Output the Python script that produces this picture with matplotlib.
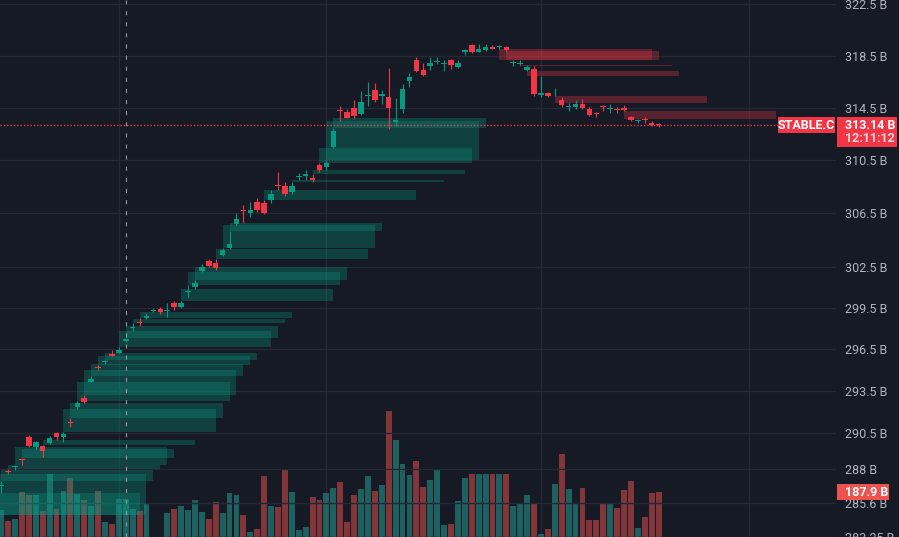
import matplotlib.pyplot as plt
import matplotlib.transforms as mtransforms
from matplotlib.patches import Rectangle
from matplotlib.ticker import NullLocator, NullFormatter
import numpy as np

plt.rcParams['font.family'] = ['Roboto', 'DejaVu Sans']
plt.rcParams['lines.scale_dashes'] = False

# daily candles, values in B; the first two bars sit just off the left edge
first_bar = -2
opens = [284.30, 284.50,
         286.82, 287.80, 288.09, 288.67, 290.21, 289.50, 289.57, 289.78, 290.49, 290.23,
         291.30, 292.39, 293.03, 294.17, 295.24, 295.59, 296.14, 296.23, 297.09, 298.08,
         298.49, 298.75, 299.31, 299.40, 299.31, 299.84, 299.55, 300.69, 301.07, 302.24,
         302.97, 302.83, 303.41, 303.92, 305.69, 306.75, 306.50, 307.31, 307.24, 307.46,
         308.60, 308.51, 308.13, 309.20, 309.26, 309.18, 310.15, 310.00, 311.50, 314.25,
         314.15, 314.46, 314.00, 315.42, 315.83, 315.37, 315.29, 313.42, 314.38, 316.52,
         318.20, 317.36, 317.67, 318.03, 317.87, 318.20, 317.59, 318.82, 319.36, 318.82,
         318.97, 319.20, 319.18, 319.20, 317.95, 317.82, 317.36, 317.44, 315.45, 315.60,
         315.58, 315.06, 314.51, 314.53, 314.76, 314.38, 314.03, 314.56, 314.36, 314.33,
         314.46, 313.78, 313.45, 313.57, 313.32, 313.19]
highs = [284.77, 284.77,
         287.13, 287.97, 288.25, 288.76, 290.35, 289.97, 289.68, 290.28, 290.61, 290.61,
         291.60, 292.77, 293.22, 294.57, 295.40, 295.76, 296.43, 296.66, 297.31, 298.39,
         298.75, 299.12, 299.48, 299.55, 299.84, 300.05, 300.05, 301.22, 301.58, 302.75,
         303.12, 303.12, 303.92, 305.17, 306.50, 307.09, 307.31, 307.61, 307.46, 308.28,
         309.63, 308.81, 308.81, 309.55, 309.78, 309.48, 310.30, 310.53, 312.94, 314.61,
         314.38, 315.06, 315.75, 316.44, 316.37, 315.83, 317.51, 315.22, 316.29, 317.13,
         318.36, 317.90, 318.36, 318.43, 318.20, 318.28, 318.13, 319.05, 319.44, 319.44,
         319.44, 319.36, 319.36, 319.28, 318.20, 318.13, 317.74, 317.67, 316.90, 315.68,
         315.98, 315.29, 314.84, 315.06, 315.14, 314.53, 314.15, 314.69, 314.76, 314.53,
         314.69, 313.85, 313.62, 313.78, 313.47, 313.32]
lows = [284.10, 284.20,
        286.30, 287.62, 287.90, 288.25, 289.52, 289.38, 288.83, 289.71, 289.99, 289.90,
        290.91, 292.25, 292.68, 294.15, 295.00, 295.47, 296.00, 296.21, 297.06, 297.82,
        298.18, 298.68, 299.19, 299.04, 298.83, 299.33, 299.53, 300.34, 300.93, 302.17,
        302.53, 302.31, 303.34, 303.85, 305.62, 305.77, 306.21, 306.58, 306.43, 307.24,
        308.21, 307.76, 307.98, 309.03, 308.96, 308.81, 309.63, 309.78, 311.43, 313.47,
        313.68, 313.62, 313.93, 314.61, 314.91, 314.76, 312.87, 313.09, 314.08, 316.06,
        317.21, 316.96, 317.36, 317.82, 317.28, 317.44, 317.51, 318.59, 318.74, 318.80,
        318.89, 319.03, 319.05, 318.89, 317.67, 317.80, 317.28, 315.37, 315.29, 315.29,
        315.37, 314.53, 314.23, 314.38, 314.38, 313.85, 313.78, 314.23, 314.08, 314.08,
        314.23, 313.47, 313.32, 313.32, 313.09, 313.02]
closes = [284.60, 284.70,
          286.89, 287.76, 288.12, 288.62, 289.57, 289.85, 289.22, 290.14, 290.21, 290.42,
          291.26, 292.63, 292.75, 294.38, 295.19, 295.63, 296.02, 296.45, 297.24, 298.13,
          298.44, 298.90, 299.35, 299.19, 299.38, 299.55, 299.84, 300.73, 301.37, 302.53,
          302.61, 302.46, 303.77, 304.22, 306.06, 306.70, 306.72, 306.72, 306.50, 307.91,
          308.56, 307.98, 308.58, 309.26, 309.48, 308.96, 309.78, 310.30, 312.71, 314.21,
          313.70, 313.85, 314.91, 315.47, 315.06, 315.52, 314.46, 313.55, 315.91, 316.83,
          317.28, 316.98, 317.97, 318.07, 317.92, 317.74, 317.97, 318.97, 318.82, 319.05,
          319.20, 319.05, 319.23, 318.97, 318.00, 317.97, 317.59, 315.52, 315.60, 315.37,
          315.62, 314.69, 314.56, 314.76, 314.46, 313.93, 313.98, 314.51, 314.40, 314.28,
          314.31, 313.55, 313.50, 313.53, 313.17, 313.14]
volumes = [120, 120,
           124, 85, 92, 188, 177, 177, 121, 252, 128, 191,
           238, 181, 160, 138, 191, 82, 74, 163, 163, 128,
           121, 145, 10, 10, 113, 128, 138, 124, 160, 117,
           92, 152, 113, 184, 177, 106, 46, 57, 245, 138,
           135, 266, 188, 53, 64, 170, 160, 184, 202, 223,
           82, 177, 199, 245, 191, 213, 475, 372, 287, 248,
           298, 206, 230, 266, 71, 74, 156, 238, 252, 252,
           252, 252, 252, 252, 138, 149, 177, 149, 39, 57,
           216, 323, 199, 149, 202, 89, 89, 145, 149, 131,
           195, 227, 60, 99, 184, 187.9]

# fair value gaps (bar where the gap starts), drawn 22 bars to the right
bull_fvg = [-2, -1, 0, 1, 2, 3, 6, 9, 10, 11, 12, 13, 14, 15, 17, 18, 19, 20,
            26, 27, 28, 31, 32, 33, 38, 42, 45, 46, 47, 48]
bear_fvg = [72, 73, 75, 76, 80, 90]
fvg_len = 22

month_starts = [17, 47, 78, 108]
crosshair_bar = 18
price_ticks = [322.5, 318.5, 314.5, 310.5, 306.5, 302.5, 299.5, 296.5,
               293.5, 290.5, 288, 285.6, 283.25]
symbol = "STABLE.C"
countdown = "12:11:12"

bg = '#161a25'
grid = '#242834'
up, down = '#089981', '#f23645'
vol_up, vol_down = '#26a69a', '#ef5350'

W, H = 899, 537
fig = plt.figure(figsize=(W / 100, H / 100), dpi=100, facecolor=bg)
axv = fig.add_axes([0, 0, 836 / W, 1])
axv.set_facecolor(bg)
ax = axv.twinx()
ax.patch.set_visible(False)

x = np.arange(len(opens)) + first_bar
o, h, l, c = (np.array(a) for a in (opens, highs, lows, closes))
rising = c >= o

# volume (overlay at the bottom)
axv.bar(x, volumes, width=0.85, color=np.where(rising, vol_up, vol_down),
        alpha=0.5, linewidth=0)
axv.set_ylim(28.4, 1932)
axv.set_xlim(-0.17, 120.64)
axv.set_xticks([])
axv.set_yticks([])
for m in month_starts:
    axv.axvline(m, color=grid, lw=1, zorder=0)

# price pane
ax.set_yscale('log')
ax.set_ylim(283.55, 322.85)
for p in price_ticks:
    ax.axhline(p, color=grid, lw=1, zorder=0)

for i in bull_fvg:
    k = i - first_bar
    ax.bar(i, l[k + 2] - h[k], bottom=h[k], width=fvg_len, align='edge',
           color=up, alpha=0.3, linewidth=0, zorder=1)
for i in bear_fvg:
    k = i - first_bar
    ax.bar(i, l[k] - h[k + 2], bottom=h[k + 2], width=fvg_len, align='edge',
           color=down, alpha=0.3, linewidth=0, zorder=1)

col = np.where(rising, up, down)
ax.vlines(x, l, h, colors=col, lw=0.8, zorder=2)
ax.bar(x, np.maximum(np.abs(c - o), 0.07), bottom=np.minimum(o, c), width=0.8,
       color=col, linewidth=0, zorder=3)

ax.axhline(c[-1], color=down, lw=1.0, ls=(0, (1.0, 1.4)), zorder=4)
ax.axvline(crosshair_bar, color='#9598a1', lw=0.8, ls=(0, (3, 5)), zorder=5)

ax.set_yticks(price_ticks)
ax.set_yticklabels([f"{p:g} B" for p in price_ticks])
ax.yaxis.set_minor_locator(NullLocator())
ax.yaxis.set_minor_formatter(NullFormatter())
ax.tick_params(axis='y', length=0, pad=6.5, labelsize=9, labelcolor='#b2b5be')
for a in (ax, axv):
    for s in a.spines.values():
        s.set_visible(False)

# last price, symbol and volume labels
ident = mtransforms.IdentityTransform()
yp = ax.transData.transform((0, c[-1]))[1]
fig.patches.append(Rectangle((837, yp - 21.7), 60, 30, transform=ident,
                             facecolor=down, edgecolor='none', figure=fig))
fig.text(845, yp, f"{c[-1]:.2f} B", transform=ident, va='center', ha='left',
         color='white', fontsize=9, fontweight='bold')
fig.text(845, yp - 13.5, countdown, transform=ident, va='center', ha='left',
         color='#fbd7da', fontsize=9, fontweight='bold')
fig.patches.append(Rectangle((778, yp - 8), 57, 16, transform=ident,
                             facecolor=down, edgecolor='none', figure=fig))
fig.text(806.5, yp, symbol, transform=ident, va='center', ha='center',
         color='white', fontsize=9, fontweight='bold')

yv = axv.transData.transform((0, volumes[-1]))[1]
fig.patches.append(Rectangle((837, yv - 8), 52, 16, transform=ident,
                             facecolor=vol_down, edgecolor='none', figure=fig))
fig.text(845, yv, f"{volumes[-1]:g} B", transform=ident, va='center', ha='left',
         color='white', fontsize=9, fontweight='bold')

fig.savefig('out.png', dpi=100, facecolor=bg)
